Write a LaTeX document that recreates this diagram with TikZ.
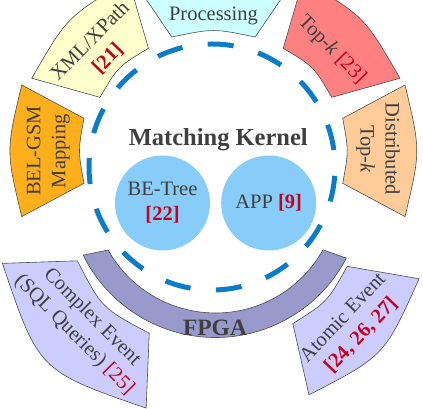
\documentclass[tikz,border=0pt]{standalone}
\usepackage{fontspec}
\setmainfont{Liberation Serif}
\definecolor{proccol}{HTML}{CCFFFF}
\definecolor{xmlcol}{HTML}{FFFFCC}
\definecolor{topkcol}{HTML}{FF8080}
\definecolor{distcol}{HTML}{FFCC99}
\definecolor{belcol}{HTML}{FFAE1C}
\definecolor{eventcol}{HTML}{CCCCFF}
\definecolor{fpgacol}{HTML}{9999CC}
\definecolor{kernelcol}{HTML}{88CCFA}
\definecolor{dashcol}{HTML}{0A7CCA}
\definecolor{refcol}{HTML}{C8001E}
\definecolor{txtcol}{HTML}{3F3F3F}
\definecolor{edgecol}{HTML}{4D4D4D}
\newcommand{\refbold}[1]{\textcolor{refcol}{\textbf{[#1]}}}
\newcommand{\refplain}[1]{\textcolor{refcol}{[#1]}}
\tikzset{
    ringseg/.style={draw=edgecol, line width=0.6pt},
    seglabel/.style={text=txtcol, align=center, inner sep=0pt,
        font=\fontsize{20.5}{25}\selectfont},
    kernel/.style={circle, fill=kernelcol, minimum size=95pt, inner sep=0pt},
    bigtitle/.style={text=txtcol, inner sep=0pt,
        font=\fontsize{24.5}{28}\selectfont\bfseries}
}

\begin{document}
\begin{tikzpicture}[x=1pt,y=1pt]
    \useasboundingbox (0,0) rectangle (423,409);
    \clip (0,0) rectangle (423,409);
    \begin{scope}[shift={(213.5,372)},rotate=90]
        \draw[ringseg,fill=proccol] (0,-41.7) .. controls (8.6,0) .. (0,41.7)
            -- (62,83.9) .. controls (80,0) .. (62,-83.9) -- cycle;
    \end{scope}
    \begin{scope}[shift={(124.2,336.2)},rotate=135.3]
        \draw[ringseg,fill=xmlcol] (0,-34.5) .. controls (8.8,0) .. (0,34.5)
            -- (61.9,68.9) .. controls (80,0) .. (61.9,-68.9) -- cycle;
    \end{scope}
    \begin{scope}[shift={(307.5,336.2)},rotate=44.7]
        \draw[ringseg,fill=topkcol] (0,-34.5) .. controls (8.8,0) .. (0,34.5)
            -- (61.9,68.9) .. controls (80,0) .. (61.9,-68.9) -- cycle;
    \end{scope}
    \begin{scope}[shift={(342.7,258.2)}]
        \draw[ringseg,fill=distcol] (0,-32.5) .. controls (6,0) .. (0,32.5)
            -- (62.3,65.8) .. controls (78,0) .. (62.3,-65.8) -- cycle;
    \end{scope}
    \begin{scope}[shift={(84,258.2)},rotate=180]
        \draw[ringseg,fill=belcol] (0,-32.5) .. controls (6,0) .. (0,32.5)
            -- (62.3,65.8) .. controls (78,0) .. (62.3,-65.8) -- cycle;
    \end{scope}
    \begin{scope}[shift={(113.3,112)},rotate=224.8]
        \draw[ringseg,fill=eventcol] (0,-51) .. controls (16,0) .. (0,51)
            -- (55,102) .. controls (105,0) .. (55,-102) -- cycle;
    \end{scope}
    \begin{scope}[shift={(320,114)},rotate=-43.5]
        \draw[ringseg,fill=eventcol] (0,-39.5) .. controls (10,0) .. (0,39.5)
            -- (60.7,80) .. controls (88.7,0) .. (60.7,-80) -- cycle;
    \end{scope}
    \begin{scope}[shift={(215.5,219)}]
        \draw[ringseg,fill=fpgacol] (209.2:123)
            arc[start angle=209.2, end angle=330.9, radius=123]
            -- (332.5:147.5) arc[start angle=332.5, end angle=206.2, radius=147.5]
            -- cycle;
    \end{scope}
    \draw[dashcol, line width=5pt, dash pattern=on 26pt off 25.5pt, dash phase=34.45pt]
        (212,242) ++(0:123) arc[start angle=0, end angle=360, radius=123];

    \path (162.5,206) node[kernel, seglabel](betree){BE-Tree\\\refbold{22}};
    \path (268.7,206) node[kernel, seglabel](app){APP \refbold{9}};
    \path (218.3,269) node[bigtitle](kerneltitle){Matching Kernel};
    \path (215,81.5) node[bigtitle, font=\fontsize{23.5}{28}\selectfont\bfseries](fpgatitle){FPGA};

    \path (213.5,393.5) node[seglabel](proclabel){Processing};
    \path (99,359) node[seglabel, rotate=45.3](xmllabel){XML/XPath\\\refbold{21}};
    \path (331.7,359) node[seglabel, rotate=-45.3](topklabel){Top-\textit{k} \refplain{23}};
    \path (378,260) node[seglabel, rotate=-90](distlabel){Distributed\\Top-\textit{k}};
    \path (48.3,258) node[seglabel, rotate=90](bellabel){BEL-GSM\\Mapping};
    \path (83,83) node[seglabel, rotate=-45.2](complexlabel){Complex Event\\(SQL Queries) \refplain{25}};
    \path (352.3,82.3) node[seglabel, rotate=46.5](atomiclabel){Atomic Event\\\refbold{24, 26, 27}};
\end{tikzpicture}
\end{document}
